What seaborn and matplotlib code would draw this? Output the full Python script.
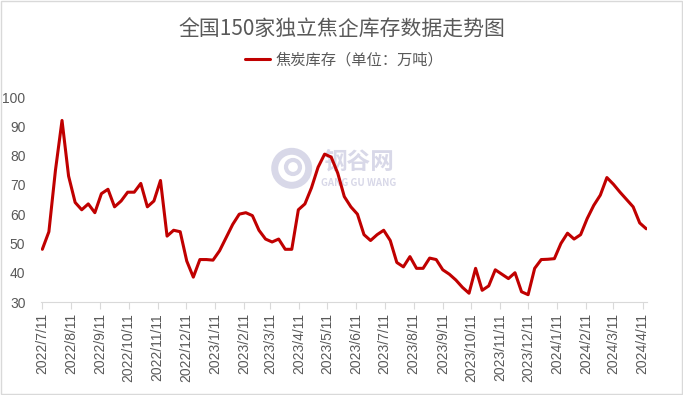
import pandas as pd
import numpy as np
import matplotlib
matplotlib.use("Agg")
import matplotlib.pyplot as plt
import seaborn as sns
from matplotlib.patches import Rectangle, Circle

# weekly coke inventory of 150 independent coking plants (10k tonnes)
start_date = "2022-07-11"
inventory = [48, 54, 75, 92, 73, 64, 61.5, 63.5, 60.5, 67, 68.5, 62.5, 64.5, 67.5, 67.5,
             70.5, 62.5, 64.5, 71.5, 52.5, 54.5, 54, 44, 38.5, 44.5, 44.5, 44.3, 47.5, 52, 56.5,
             60, 60.5, 59.5, 54.5, 51.5, 50.5, 51.5, 48, 48, 61.5, 63.5, 69, 76, 80.5, 79.5,
             74, 66, 62.5, 60, 53, 51, 53, 54.5, 51, 43.5, 42, 45.5, 41.5, 41.5, 45, 44.5,
             41, 39.5, 37.5, 35, 33, 41.5, 34, 35.5, 41, 39.5, 38, 40, 33.5, 32.5, 41.5, 44.5,
             44.6, 44.8, 50, 53.5, 51.5, 53, 58.5, 63, 66.5, 72.5, 70.2, 67.5, 65, 62.5, 57, 55]
dates = pd.date_range(start_date, periods=len(inventory), freq="7D")

tick_dates = [pd.Timestamp(2022, 7, 11) + pd.DateOffset(months=i) for i in range(22)]
tick_labels = [f"{d.year}/{d.month}/{d.day}" for d in tick_dates]
y_ticks = [30, 40, 50, 60, 70, 80, 90, 100]

title = "全国150家独立焦企库存数据走势图"
series_name = "焦炭库存（单位：万吨）"

sns.set_style("white")
plt.rcParams["font.family"] = ["Noto Sans CJK SC", "DejaVu Sans"]

df = pd.DataFrame({"date": dates, "value": inventory})

fig = plt.figure(figsize=(6.83, 3.95), dpi=100)
ax = fig.add_axes([0.0606, 0.2354, 0.887, 0.519])
ax.set_zorder(5)
ax.patch.set_alpha(0)

# watermark (钢谷网 logo), kept underneath the axes
wm = "#d8d8e8"
fig.text(359 / 683, 1 - 162 / 395, "钢谷网", fontsize=17, color=wm, ha="center", va="center",
         fontweight="bold", zorder=0)
fig.text(359 / 683, 1 - 183 / 395, "GANG GU WANG", fontsize=7, color=wm, ha="center",
         va="center", fontweight="bold", zorder=0)
fig.patches.append(Circle((2.917, 3.95 - 1.683), 0.17, transform=fig.dpi_scale_trans,
                          facecolor="none", edgecolor=wm, lw=5, zorder=0))
fig.patches.append(Circle((2.93, 3.95 - 1.67), 0.07, transform=fig.dpi_scale_trans,
                          facecolor="none", edgecolor=wm, lw=3, zorder=0))

sns.lineplot(data=df, x="date", y="value", ax=ax, color="#c00000", linewidth=2.2,
             label=series_name, solid_joinstyle="round", solid_capstyle="round")

ax.set_ylim(30, 100)
ax.set_yticks(y_ticks)
ax.set_xlim(pd.Timestamp("2022-07-10"), pd.Timestamp("2024-04-16"))
ax.set_xticks(tick_dates)
ax.set_xticklabels(tick_labels, rotation=90, fontsize=10, color="#595959",
                   family=["Liberation Sans", "DejaVu Sans"])
ax.set_yticklabels([str(v) for v in y_ticks], fontsize=10, color="#595959",
                   family=["Liberation Sans", "DejaVu Sans"])
ax.set_xlabel("")
ax.set_ylabel("")

for s in ["top", "right", "left"]:
    ax.spines[s].set_visible(False)
ax.spines["bottom"].set_color("#d9d9d9")
ax.tick_params(axis="x", which="major", bottom=True, length=5, color="#d9d9d9", pad=3)
ax.tick_params(axis="y", left=False, pad=8)

fig.text(0.5, 1 - 30 / 395, title, fontsize=15, color="#595959", ha="center", va="center")
ax.legend(loc="center", bbox_to_anchor=(0.5, (302 - 60) / 205), frameon=False, fontsize=11,
          handlelength=1.6, handletextpad=0.4, labelcolor="#595959")

fig.patches.append(Rectangle((0.002, 0.003), 0.996, 0.994, transform=fig.transFigure,
                             facecolor="none", edgecolor="#d9d9d9", lw=1))

fig.savefig("out.png", dpi=100)
